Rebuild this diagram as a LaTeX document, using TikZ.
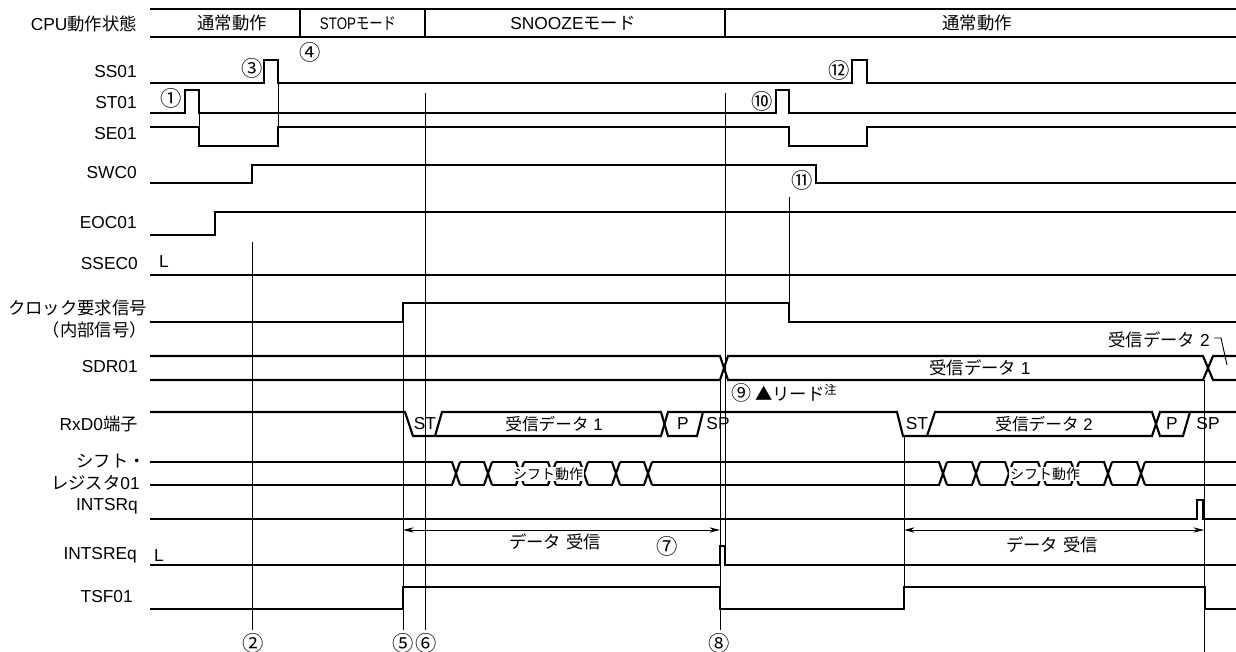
\documentclass[tikz,border=0pt]{standalone}
\usepackage{fontspec}
\usepackage{graphicx}
\setmainfont{Liberation Sans}
\newfontfamily\jpfont{Noto Sans CJK JP}
\usetikzlibrary{arrows.meta}
\newcommand{\jp}[1]{{\jpfont #1}}
\newcommand{\sigfont}{\fontsize{13}{15}\selectfont}
\tikzset{
  tdsig/.style={draw=black, line width=1.6pt, line join=miter},
  tdguide/.style={draw=black, line width=0.7pt},
  tdname/.style={anchor=east, inner sep=0pt, font=\sigfont, align=right},
  tdtxt/.style={inner sep=0pt, font=\sigfont},
  tdnum/.style={inner sep=0pt, font=\jpfont\fontsize{16}{18}\selectfont},
  tdspan/.style={draw=black, line width=0.7pt, {Stealth[length=8pt,width=4pt]}-{Stealth[length=8pt,width=4pt]}}
}
\begin{document}
\begin{tikzpicture}[x=0.75pt, y=-0.75pt]
  \useasboundingbox (0,0) rectangle (1236,652);
  % signal names
  \node[tdname] (nCpu)   at (137,24)  {CPU\jp{動作状態}};
  \node[tdname] (nSs)    at (137,72)  {SS01};
  \node[tdname] (nSt)    at (137,103) {ST01};
  \node[tdname] (nSe)    at (137,134) {SE01};
  \node[tdname] (nSwc)   at (137,173) {SWC0};
  \node[tdname] (nEoc)   at (137,223) {EOC01};
  \node[tdname] (nSsec)  at (138,264) {SSEC0};
  \node[tdname] (nClk)   at (147,308) {\jp{クロック要求信号}};
  \node[tdname] (nClkB)  at (147,330) {\jp{（内部信号）}};
  \node[tdname] (nSdr)   at (138,367) {SDR01};
  \node[tdname] (nRxd)   at (138,424) {RxD0\jp{端子}};
  \node[tdname] (nShf)   at (146,461) {\jp{シフト・}};
  \node[tdname] (nShfB)  at (140,483) {\jp{レジスタ}01};
  \node[tdname] (nIntsr) at (138,506) {INTSRq};
  \node[tdname] (nIntse) at (137,555) {INTSREq};
  \node[tdname] (nTsf)   at (133,597) {TSF01};
  % CPU state row
  \draw[tdsig] (150,9) -- (1236,9);
  \draw[tdsig] (150,37) -- (1236,37);
  \foreach \x in {300,425,725}
    \draw[tdsig] (\x,9) -- (\x,37);
  \node[tdtxt] (sNormA) at (232,23) {\jp{通常動作}};
  \node[tdtxt] (sStop)  at (358,23) {\scalebox{0.8}[1]{\fontsize{12.5}{14}\selectfont STOP\jp{モード}}};
  \node[tdtxt] (sSnz)   at (573,23) {SNOOZE\jp{モード}};
  \node[tdtxt] (sNormB) at (977,23) {\jp{通常動作}};
  % waveforms
  \draw[tdsig] (150,83) -- (264,83) -- (264,60) -- (278,60) -- (278,83) -- (852,83) -- (852,60) -- (867,60) -- (867,83) -- (1236,83);
  \draw[tdsig] (150,113) -- (185,113) -- (185,90) -- (199,90) -- (199,113) -- (776,113) -- (776,90) -- (789,90) -- (789,113) -- (1236,113);
  \draw[tdsig] (150,127) -- (199,127) -- (199,146) -- (278,146) -- (278,127) -- (789,127) -- (789,146) -- (867,146) -- (867,127) -- (1236,127);
  \draw[tdsig] (150,183) -- (252,183) -- (252,165) -- (816,165) -- (816,183) -- (1236,183);
  \draw[tdsig] (150,235) -- (215,235) -- (215,212) -- (1236,212);
  \draw[tdsig] (150,275) -- (1236,275);
  \draw[tdsig] (150,322) -- (403,322) -- (403,303) -- (789,303) -- (789,322) -- (1236,322);
  % SDR01 bus
  \draw[tdsig] (150,356) -- (720,356) -- (728,380) -- (1203,380) -- (1213,356) -- (1236,356);
  \draw[tdsig] (150,380) -- (720,380) -- (728,356) -- (1203,356) -- (1213,380) -- (1236,380);
  % RxD0 frames
  \draw[tdsig] (150,412) -- (405,412) -- (413,436) -- (661,436) -- (668,412) -- (897,412) -- (903,436) -- (1152,436) -- (1160,412) -- (1236,412);
  \draw[tdsig] (435,436) -- (442,412) -- (661,412) -- (668,436) -- (697,436) -- (703,412);
  \draw[tdsig] (927,436) -- (935,412) -- (1152,412) -- (1160,436) -- (1183,436) -- (1190,412);
  % shift register
  \draw[tdsig] (150,462) -- (1236,462);
  \draw[tdsig] (150,485) -- (1236,485);
  \foreach \c in {456,488,520,552,584,616,648,943,976,1009,1042,1075,1108,1141} {
    \fill[white] (\c-3.5,458) rectangle (\c+3.5,489);
    \draw[tdsig] (\c-4,462) -- (\c+4,485);
    \draw[tdsig] (\c-4,485) -- (\c+4,462);
  }
  \draw[tdsig] (150,519) -- (1197,519) -- (1197,500) -- (1203,500) -- (1203,519) -- (1236,519);
  \draw[tdsig] (150,565) -- (720,565) -- (720,546) -- (725,546) -- (725,565) -- (1236,565);
  \draw[tdsig] (150,609) -- (403,609) -- (403,587) -- (720,587) -- (720,609) -- (904,609) -- (904,587) -- (1205,587) -- (1205,609) -- (1236,609);
  % guide lines
  \draw[tdguide] (252,242) -- (252,630);
  \draw[tdguide] (403,303) -- (403,630);
  \draw[tdguide] (425,93) -- (425,630);
  \draw[tdguide] (725,93) -- (725,546);
  \draw[tdguide] (720,380) -- (720,630);
  \draw[tdguide] (789,197) -- (789,303);
  \draw[tdguide] (904,436) -- (904,609);
  \draw[tdguide] (1204,380) -- (1204,652);
  \draw[tdguide] (278,83) -- (278,127);
  \draw[tdguide] (199,113) -- (199,127);
  % bus texts
  \node[tdtxt] (dSdrA) at (980,368) {\jp{受信データ} 1};
  \node[tdtxt, anchor=east] (dSdrB) at (1210,340) {\jp{受信データ} 2};
  \draw[tdguide] (1214,338) -- (1221,338) -- (1227,365);
  \node[tdtxt, anchor=west] (nRead) at (731,393) {\jp{{\fontsize{15}{17}\selectfont ⑨} ▲リード}\textsuperscript{\jp{注}}};
  \node[tdtxt] (rStA) at (425,424) {ST};
  \node[tdtxt, font=\fontsize{12.5}{14}\selectfont] (rDatA) at (554,424) {\jp{受信データ} 1};
  \node[tdtxt] (rPA)  at (683,424) {P};
  \node[tdtxt] (rSpA) at (718,424) {SP};
  \node[tdtxt] (rStB) at (917,424) {ST};
  \node[tdtxt, font=\fontsize{12.5}{14}\selectfont] (rDatB) at (1044,424) {\jp{受信データ} 2};
  \node[tdtxt] (rPB)  at (1172,424) {P};
  \node[tdtxt] (rSpB) at (1208,424) {SP};
  \node[tdtxt, fill=white, inner sep=0.5pt, font=\jpfont\fontsize{10.5}{12}\selectfont] (shA) at (548,474) {シフト動作};
  \node[tdtxt, fill=white, inner sep=0.5pt, font=\jpfont\fontsize{10.5}{12}\selectfont] (shB) at (1045,474) {シフト動作};
  % receive spans
  \coordinate (spA1) at (403,530);
  \coordinate (spA2) at (720,530);
  \coordinate (spB1) at (904,530);
  \coordinate (spB2) at (1204,530);
  \draw[tdspan] (spA1) -- (spA2);
  \draw[tdspan] (spB1) -- (spB2);
  \node[tdtxt] (rcvA) at (555,542) {\jp{データ\hspace{4pt}受信}};
  \node[tdtxt] (rcvB) at (1052,545) {\jp{データ\hspace{4pt}受信}};
  % levels
  \node[tdtxt] (lvA) at (164,262) {L};
  \node[tdtxt] (lvB) at (159,556) {L};
  % step numbers
  \node[tdnum] (n1)  at (171,98)  {①};
  \node[tdnum] (n2)  at (253,643) {②};
  \node[tdnum] (n3)  at (252,68)  {③};
  \node[tdnum] (n4)  at (310,52)  {④};
  \node[tdnum] (n5)  at (403,643) {⑤};
  \node[tdnum] (n6)  at (426,643) {⑥};
  \node[tdnum] (n7)  at (667,546) {⑦};
  \node[tdnum] (n8)  at (719,643) {⑧};
  \node[tdnum] (n10) at (762,101) {⑩};
  \node[tdnum] (n11) at (802,180) {⑪};
  \node[tdnum] (n12) at (839,70)  {⑫};
\end{tikzpicture}
\end{document}
